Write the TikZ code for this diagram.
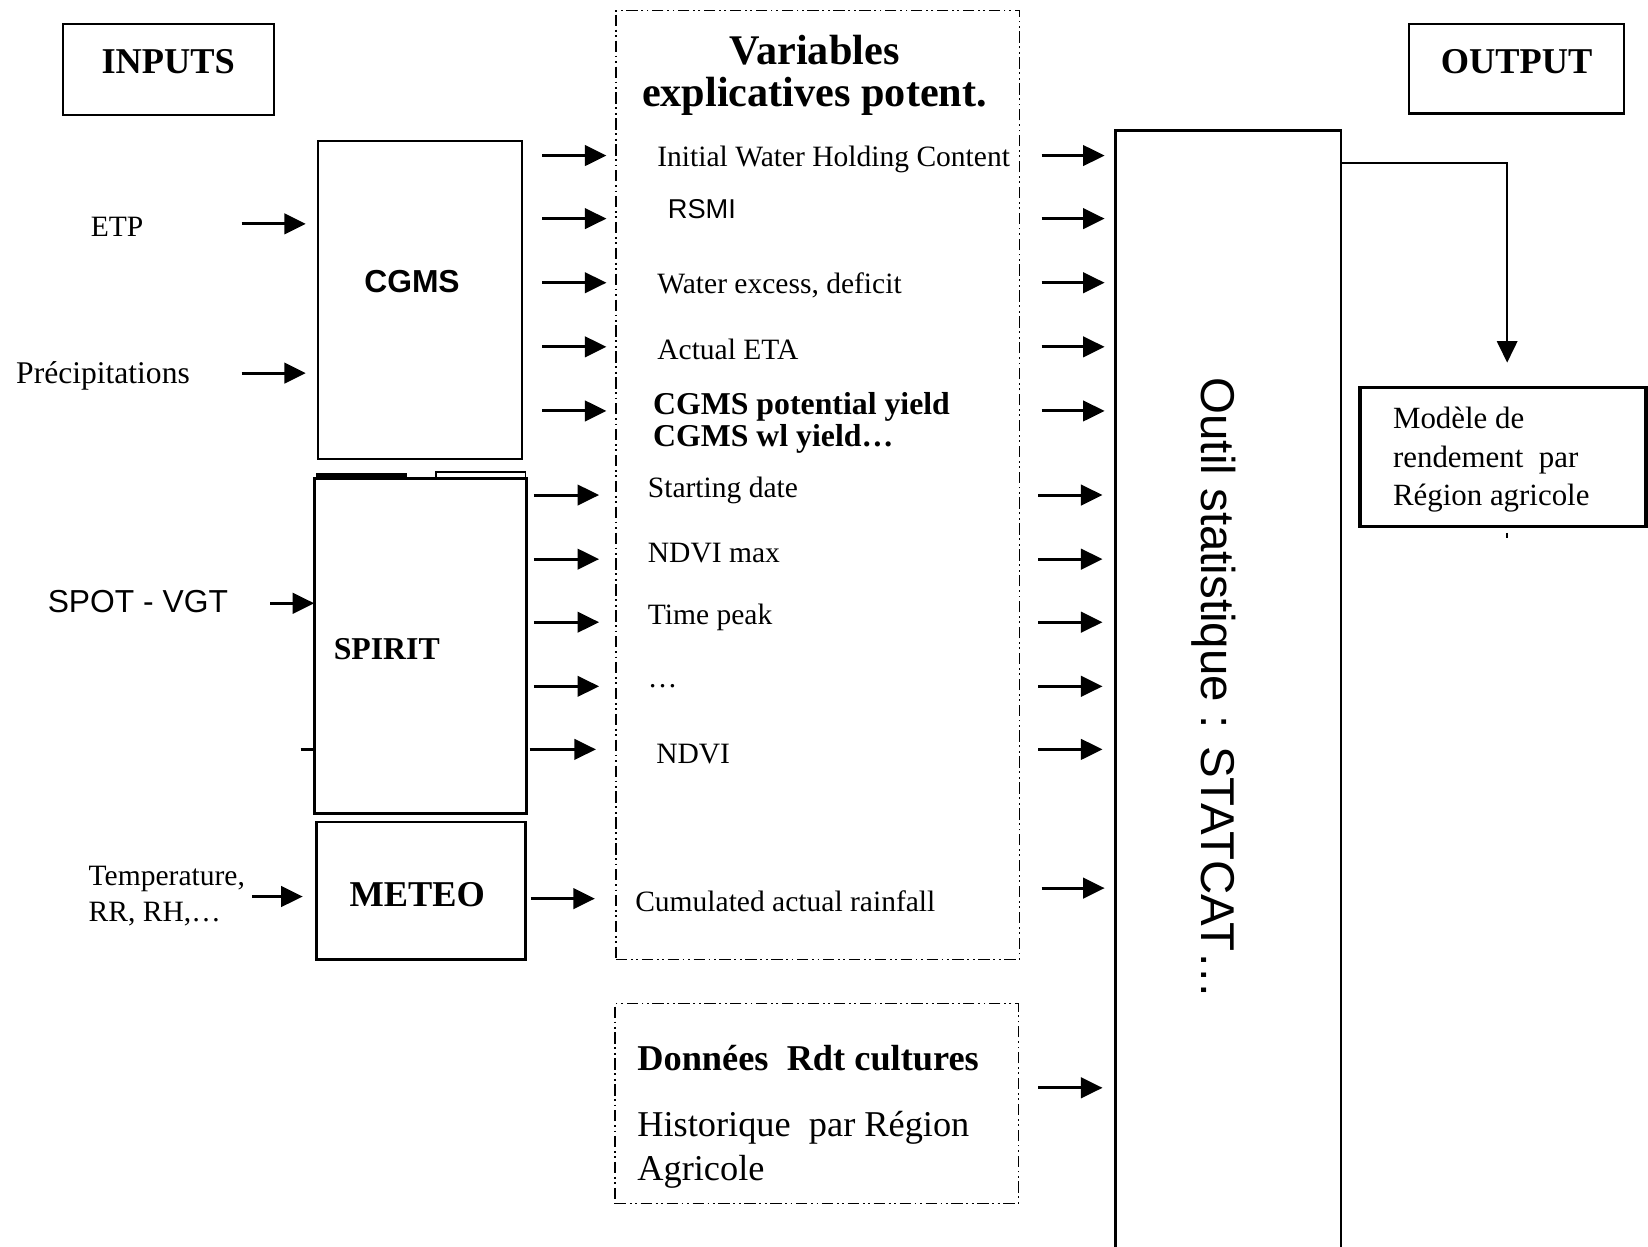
\documentclass[tikz,border=0pt]{standalone}
\usepackage{fontspec}
\setmainfont{Liberation Serif}
\setsansfont{Liberation Sans}
\usetikzlibrary{arrows.meta,fit}
\tikzset{>={Triangle[length=9.5pt,width=9pt]}}
\tikzset{%
    box/.style={draw, line width=0.9pt, inner sep=0pt},
    thickbox/.style={draw, line width=1.4pt, inner sep=0pt},
    dashbox/.style={draw, line width=0.6pt, inner sep=0pt,
        dash pattern=on 5pt off 1.6pt on 0.8pt off 1.6pt on 0.8pt off 1.6pt},
    arr/.style={->, line width=1.3pt},
    txt/.style={anchor=west, inner sep=0pt, yshift=-1.2pt, font=\fontsize{13}{15.5}\selectfont},
    title/.style={font=\bfseries\fontsize{16}{19}\selectfont}
}

\begin{document}
\begin{tikzpicture}[x=0.01627cm,y=-0.01627cm]
    \useasboundingbox (0,0) rectangle (1568,1186);
%   titres
    \node[box,fit={(60,23) (261,109)}] (inputs) {};
    \node[title] at (160,59) {INPUTS};
    \node[box,fit={(1341,23) (1545,108)}] (output) {};
    \node[title] at (1443,59) {OUTPUT};
%   modeles
    \node[box,fit={(303,134) (497,437)}] (cgms) {};
    \node[font=\sffamily\bfseries\fontsize{14}{17}\selectfont] at (392,268) {CGMS};
    \node[thickbox,fit={(299,455) (501,774)}] (spirit) {};
    \node[font=\bfseries\fontsize{14}{17}\selectfont] at (368,618) {SPIRIT};
    \node[box,line width=1.1pt,fit={(301,782) (500,913)}] (meteo) {};
    \node[font=\bfseries\fontsize{16}{19}\selectfont] at (397,851) {METEO};
    \draw[line width=1.5pt] (301,452) -- (387,452);
    \draw[line width=0.6pt] (415,449) rectangle (500,455);
    \draw[line width=1.2pt] (286,713) -- (299,713);
%   inputs
    \node[txt] (etp) at (86,213) {ETP};
    \node[txt,font=\fontsize{13.9}{16}\selectfont] (precip) at (15,355) {Précipitations};
    \node[txt,font=\sffamily\fontsize{14}{17}\selectfont] (spot) at (45,570) {SPOT - VGT};
    \node[txt,align=left] (temp) at (84,850) {Temperature,\\RR, RH,…};
    \foreach \xa/\xb/\y [count=\i] in {230/291/213, 230/291/355, 257/299/574, 240/288/853}
    {
        \coordinate (in\i) at (\xa,\y);
        \coordinate (to\i) at (\xb,\y);
        \draw[arr] (in\i) -- (to\i);
    }
%   variables
    \node[dashbox,fit={(586,10) (970,913)}] (vars) {};
    \node[align=center,font=\bfseries\fontsize{18.6}{18.5}\selectfont] (varstitle) at (775,72) {Variables\\explicatives potent.};
    \node[txt] (iwhc) at (625,149) {Initial Water Holding Content};
    \node[txt,font=\sffamily\fontsize{12}{14}\selectfont] (rsmi) at (635,196) {RSMI};
    \node[txt] (wed) at (625,269) {Water excess, deficit};
    \node[txt] (eta) at (625,330) {Actual ETA};
    \node[txt,align=left,font=\bfseries\fontsize{14}{14}\selectfont] (yield) at (621,400) {CGMS potential yield\\CGMS wl yield…};
    \node[txt] (start) at (616,464) {Starting date};
    \node[txt] (ndvimax) at (616,524) {NDVI max};
    \node[txt] (peak) at (616,585) {Time peak};
    \node[txt] (dots) at (616,650) {…};
    \node[txt] (ndvi) at (624,715) {NDVI};
    \node[txt] (rain) at (604,855) {Cumulated actual rainfall};
    \foreach \xa/\xb/\y [count=\i] in {516/577/148, 516/577/208, 516/577/269, 516/577/330, 516/577/391,
        508/570/471, 508/570/532, 508/570/592, 508/570/653, 504/567/713, 505/566/855}
    {
        \coordinate (m\i) at (\xa,\y);
        \coordinate (v\i) at (\xb,\y);
        \draw[arr] (m\i) -- (v\i);
    }
%   donnees
    \node[dashbox,fit={(585,955) (969,1145)}] (donnees) {};
    \node[txt,font=\bfseries\fontsize{16}{19}\selectfont] (rdt) at (606,1004) {Données~ Rdt cultures};
    \node[txt,align=left,font=\fontsize{16}{19.4}\selectfont] (histo) at (606,1091) {Historique~ par Région\\Agricole};
%   outil statistique
    \node[draw,line width=1.2pt,inner sep=0pt,fit={(1061,124) (1276,1200)}] (stat) {};
    \node[rotate=-90,inner sep=0pt,font=\sffamily\fontsize{20.9}{24}\selectfont] (statcat) at (1155,655) {Outil statistique : STATCAT…};
    \foreach \xa/\xb/\y [count=\i] in {991/1051/148, 991/1051/208, 991/1051/269, 991/1051/330, 991/1051/391,
        988/1049/471, 988/1049/532, 988/1049/592, 988/1049/653, 988/1049/713, 991/1051/845, 988/1049/1035}
    {
        \coordinate (w\i) at (\xa,\y);
        \coordinate (s\i) at (\xb,\y);
        \draw[arr] (w\i) -- (s\i);
    }
%   output
    \node[thickbox,fit={(1294,369) (1566,501)}] (modele) {};
    \node[anchor=north west,align=left,inner sep=0pt,font=\fontsize{13.6}{17}\selectfont] (modtxt) at (1325,387) {Modèle de\\rendement~ par\\Région agricole};
    \coordinate (o1) at (1276,155);
    \coordinate (o2) at (1434,345);
    \draw[->,line width=1pt] (o1) -| (o2);
    \draw[line width=1pt] (1434,507) -- (1434,512);
\end{tikzpicture}
\end{document}
